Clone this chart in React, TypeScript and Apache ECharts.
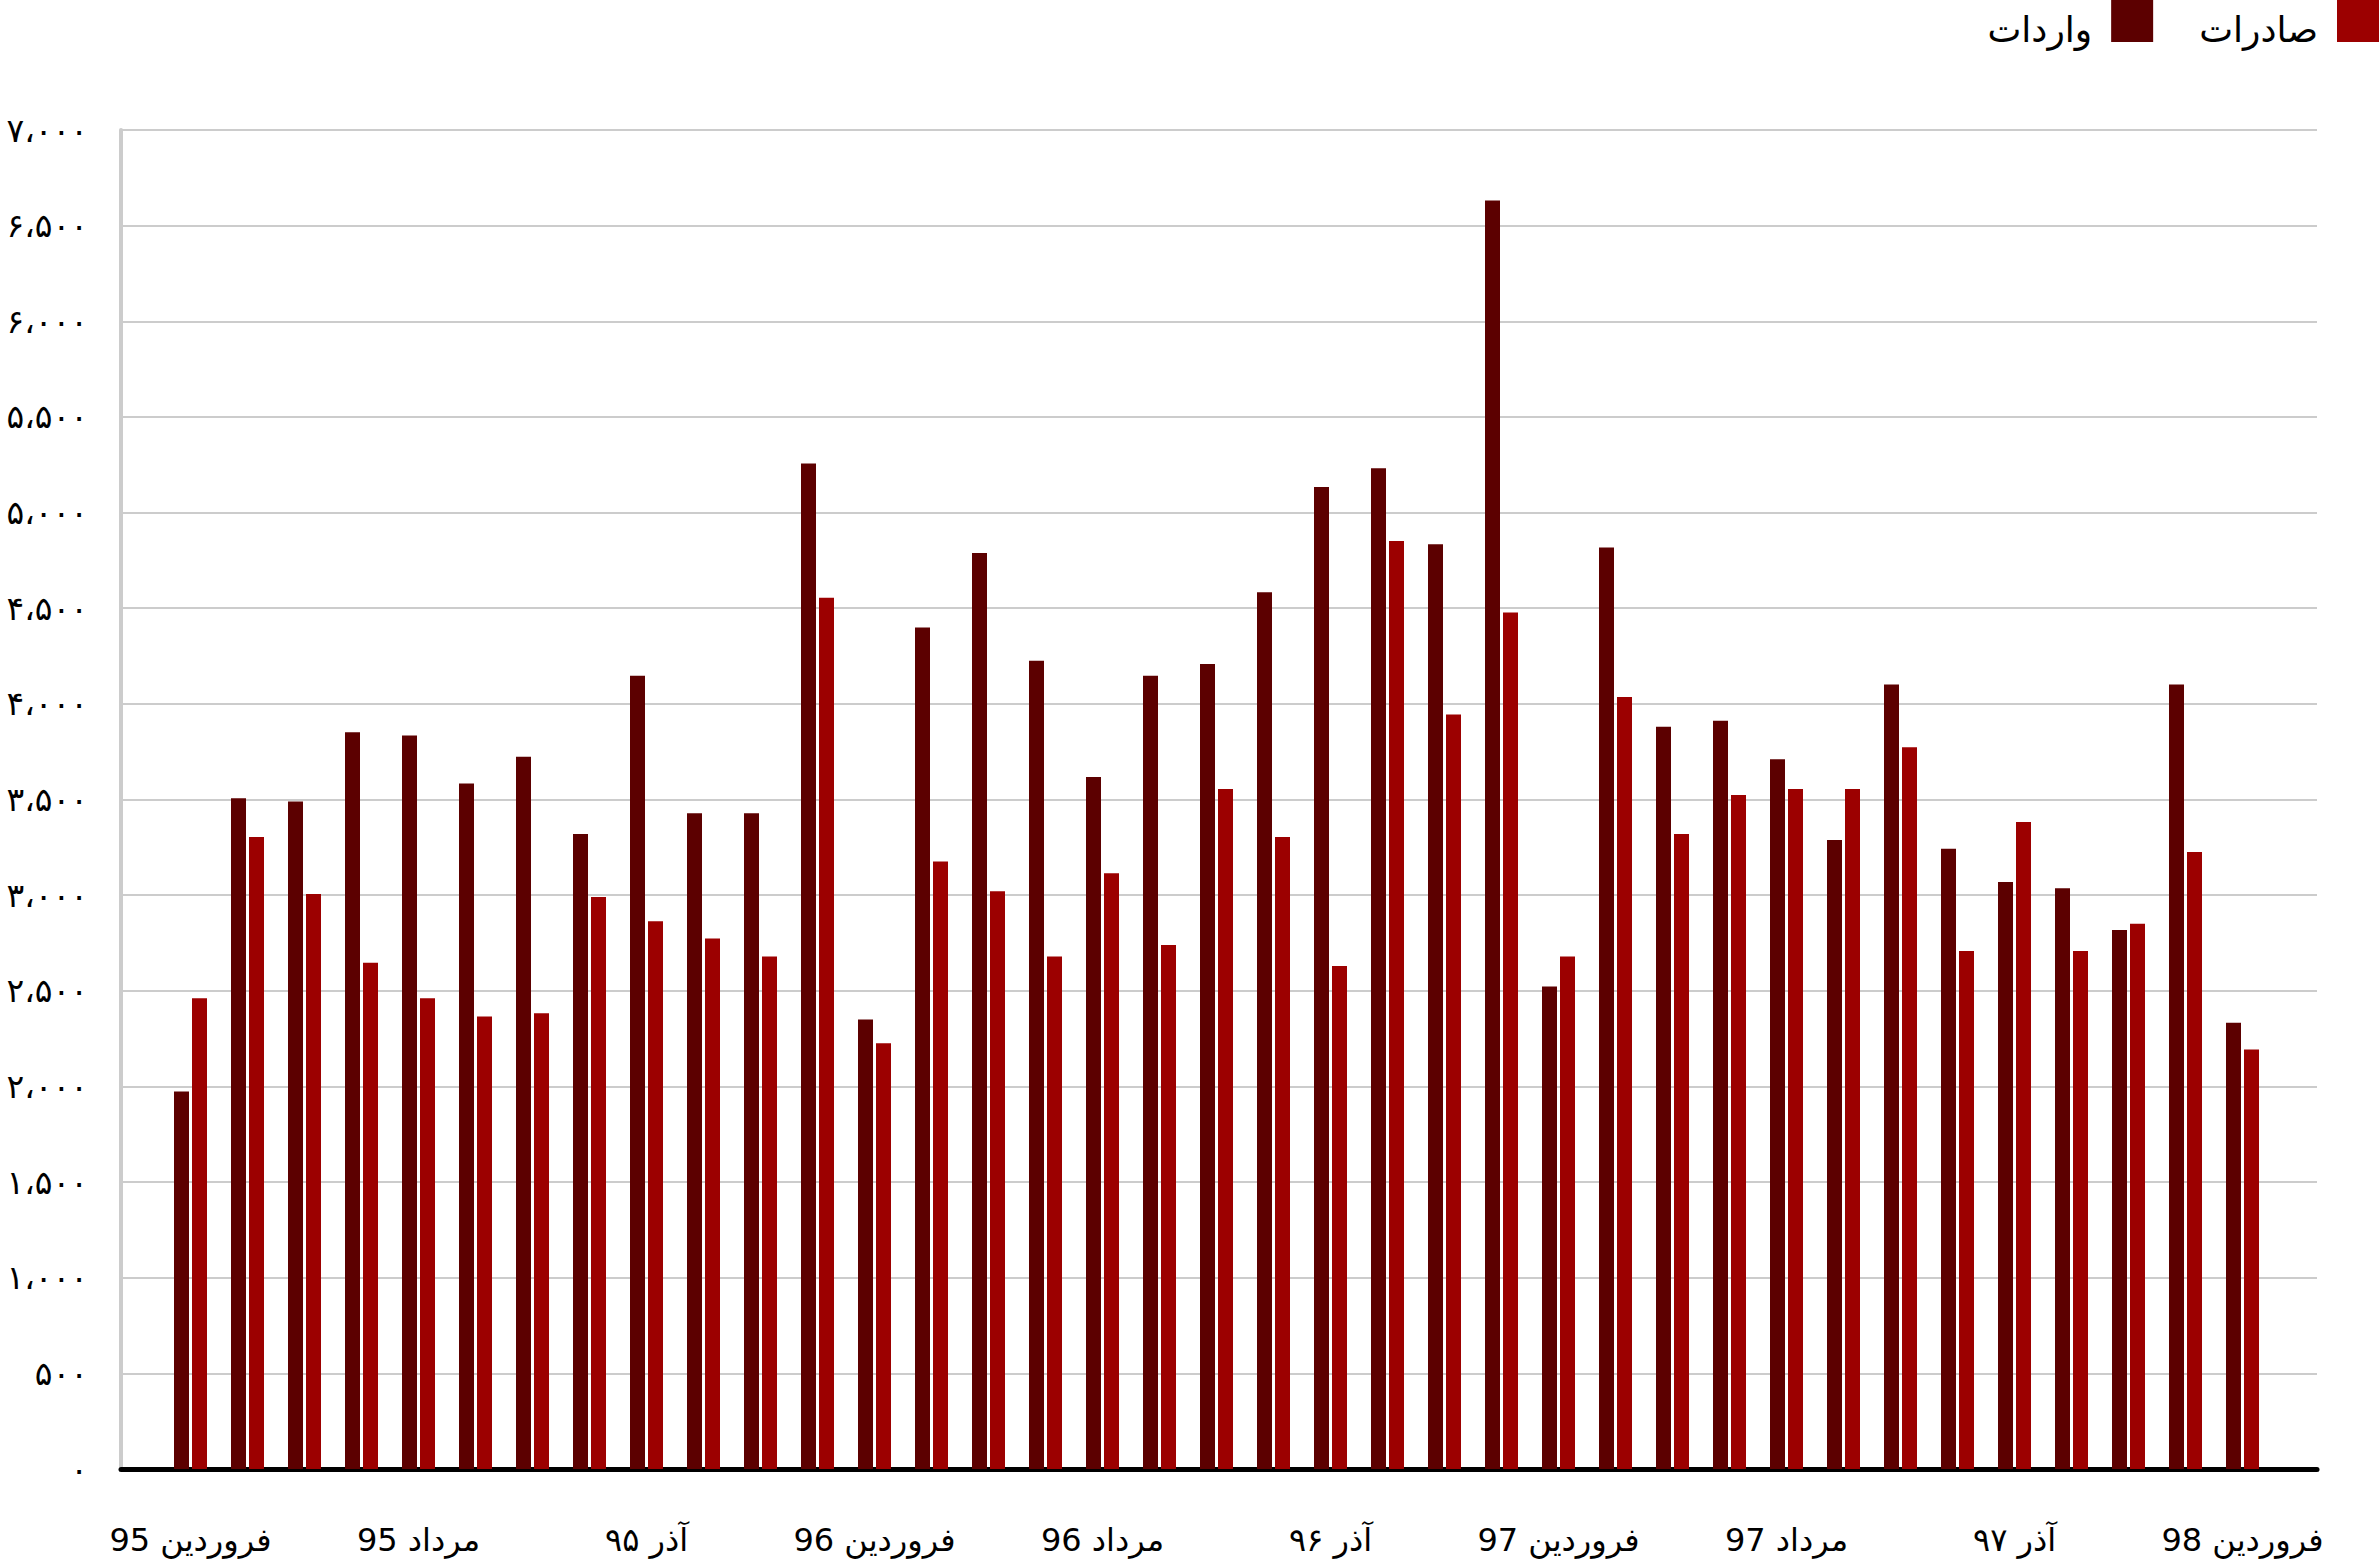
import React, { useEffect, useRef } from 'react';
import * as echarts from 'echarts';

const categories = [
  'فروردین 95', 'اردیبهشت 95', 'خرداد 95', 'تیر 95', 'مرداد 95', 'شهریور 95', 'مهر 95', 'آبان 95',
  'آذر ۹۵', 'دی 95', 'بهمن 95', 'اسفند 95',
  'فروردین 96', 'اردیبهشت 96', 'خرداد 96', 'تیر 96', 'مرداد 96', 'شهریور 96', 'مهر 96', 'آبان 96',
  'آذر ۹۶', 'دی 96', 'بهمن 96', 'اسفند 96',
  'فروردین 97', 'اردیبهشت 97', 'خرداد 97', 'تیر 97', 'مرداد 97', 'شهریور 97', 'مهر 97', 'آبان 97',
  'آذر ۹۷', 'دی 97', 'بهمن 97', 'اسفند 97',
  'فروردین 98',
];

const importsValues = [
  1974, 3507, 3490, 3851, 3835, 3584, 3723, 3320, 4147, 3428, 3428, 5256,
  2350, 4399, 4789, 4226, 3617, 4147, 4209, 4584, 5134, 5232, 4834, 6631,
  2523, 4818, 3880, 3912, 3711, 3288, 4101, 3242, 3069, 3036, 2818, 4101,
  2333,
];

const exportsValues = [
  2461, 3304, 3006, 2646, 2461, 2366, 2383, 2990, 2864, 2773, 2679, 4555,
  2226, 3176, 3020, 2679, 3114, 2740, 3555, 3304, 2630, 4851, 3945, 4477,
  2679, 4036, 3320, 3523, 3555, 3555, 3773, 2708, 3382, 2708, 2851, 3225,
  2193,
];

const yTickLabels = [
  '۰', '۵۰۰', '۱،۰۰۰', '۱،۵۰۰', '۲،۰۰۰', '۲،۵۰۰', '۳،۰۰۰', '۳،۵۰۰',
  '۴،۰۰۰', '۴،۵۰۰', '۵،۰۰۰', '۵،۵۰۰', '۶،۰۰۰', '۶،۵۰۰', '۷،۰۰۰',
];

const seriesNames = ['واردات', 'صادرات'];
const seriesColors = ['#5c0000', '#9c0000'];

const FONT = "'DejaVu Sans', sans-serif";

export default function App() {
  const ref = useRef<HTMLDivElement>(null);

  useEffect(() => {
    document.body.style.margin = '0';
    document.body.style.overflow = 'hidden';
    const chart = echarts.init(ref.current as HTMLDivElement, null, { renderer: 'svg' });
    chart.setOption({
      animation: false,
      backgroundColor: '#ffffff',
      textStyle: { fontFamily: FONT },
      legend: {
        data: seriesNames,
        right: 0,
        top: 0,
        padding: 0,
        align: 'right',
        itemWidth: 42,
        itemHeight: 42,
        itemGap: 46,
        icon: 'rect',
        formatter: '{t|{name}}',
        textStyle: {
          fontFamily: FONT,
          fontSize: 36,
          color: '#000',
          rich: {
            t: {
              fontFamily: FONT,
              fontSize: 36,
              color: '#000',
              padding: [16, 14, 0, 0],
            },
          },
        },
      },
      grid: [
        { left: 121, right: 62, top: 130, bottom: 94 },
        { left: 162, right: 108, top: 130, bottom: 94 },
      ],
      xAxis: [
        {
          type: 'value',
          gridIndex: 0,
          min: 0,
          max: 1,
          axisLine: { show: true, lineStyle: { color: '#000', width: 5 } },
          axisTick: { show: false },
          axisLabel: { show: false },
          splitLine: { show: false },
        },
        {
          type: 'category',
          gridIndex: 1,
          data: categories,
          boundaryGap: true,
          axisLine: { show: false },
          axisTick: { show: false },
          axisLabel: {
            interval: 3,
            margin: 55,
            fontSize: 32,
            color: '#000',
            fontFamily: FONT,
          },
        },
      ],
      yAxis: [
        {
          type: 'value',
          gridIndex: 0,
          min: 0,
          max: 7000,
          interval: 500,
          axisLine: { show: true, lineStyle: { color: '#cccccc', width: 4 } },
          axisTick: { show: false },
          splitLine: { show: true, lineStyle: { color: '#cccccc', width: 2 } },
          axisLabel: {
            margin: 33,
            fontSize: 33,
            color: '#000',
            fontFamily: FONT,
            formatter: (v: number) => yTickLabels[Math.round(v / 500)],
          },
        },
        {
          type: 'value',
          gridIndex: 1,
          min: 0,
          max: 7000,
          interval: 500,
          show: false,
          splitLine: { show: false },
        },
      ],
      series: [
        {
          name: seriesNames[0],
          type: 'bar',
          xAxisIndex: 1,
          yAxisIndex: 1,
          data: importsValues,
          barWidth: 15,
          barGap: '20%',
          itemStyle: { color: seriesColors[0] },
        },
        {
          name: seriesNames[1],
          type: 'bar',
          xAxisIndex: 1,
          yAxisIndex: 1,
          data: exportsValues,
          barWidth: 15,
          barGap: '20%',
          itemStyle: { color: seriesColors[1] },
        },
      ],
    });
    return () => chart.dispose();
  }, []);

  return <div ref={ref} style={{ width: 2379, height: 1563 }} />;
}
